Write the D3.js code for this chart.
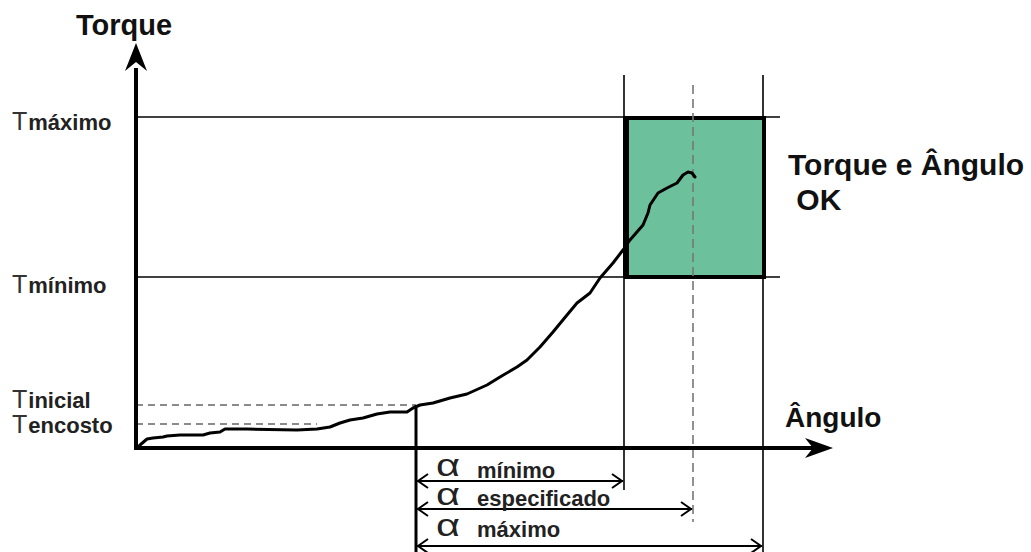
<!DOCTYPE html>
<html>
<head>
<meta charset="utf-8">
<script src="https://cdn.jsdelivr.net/npm/d3@7/dist/d3.min.js"></script>
<style>
  html, body { margin: 0; padding: 0; background: #fff; }
  svg { display: block; }
  text { font-family: "Liberation Sans", Arial, sans-serif; }
</style>
</head>
<body>
<svg id="chart" width="1031" height="552"></svg>
<script>
// ---------- data ----------
const curveAngle  = [0, 2, 4, 11, 17, 27, 31, 44, 67, 74, 84, 89, 111, 161, 181, 194, 204, 214, 227, 241, 254, 271, 277, 284, 297, 314, 331, 351, 364, 381, 391, 404, 417, 431, 441, 454, 464, 477, 487, 494, 507, 512, 514, 522, 531, 541, 547, 552, 556, 559];
const curveTorque = [0, 1, 3, 9, 10, 11, 12, 13, 13, 15, 16, 19, 19, 18, 19, 21, 25, 28, 30, 34, 36, 36, 40, 43, 45, 50, 54, 63, 71, 81, 88, 101, 116, 133, 145, 155, 170, 185, 198, 208, 223, 235, 243, 255, 260, 265, 273, 276, 275, 271];

const torqueNames  = ["máximo", "mínimo", "inicial", "encosto"];
const torqueValues = [331, 171, 43, 24];

const angleStart  = 280;
const angleNames  = ["mínimo", "especificado", "máximo"];
const angleValues = [488, 557, 627];

const axisTitles = ["Torque", "Ângulo"];
const okLines = ["Torque e Ângulo", " OK"];

// ---------- scales ----------
const svg = d3.select("#chart");
const x = d3.scaleLinear().domain([0, 700]).range([136, 836]);
const y = d3.scaleLinear().domain([0, 410]).range([448, 38]);

const tMax = torqueValues[0], tMin = torqueValues[1], tIni = torqueValues[2], tEnc = torqueValues[3];
const aMin = angleValues[0], aSpec = angleValues[1], aMax = angleValues[2];

// ---------- reference lines ----------
[tMax, tMin].forEach(t => {
  svg.append("line")
    .attr("x1", x(0)).attr("x2", x(644))
    .attr("y1", y(t)).attr("y2", y(t))
    .attr("stroke", "#000").attr("stroke-width", 1.6);
});
svg.append("line")
  .attr("x1", x(0)).attr("x2", x(angleStart))
  .attr("y1", y(tIni)).attr("y2", y(tIni))
  .attr("stroke", "#666").attr("stroke-width", 1.4).attr("stroke-dasharray", "7,5");
svg.append("line")
  .attr("x1", x(0)).attr("x2", x(181))
  .attr("y1", y(tEnc)).attr("y2", y(tEnc))
  .attr("stroke", "#666").attr("stroke-width", 1.4).attr("stroke-dasharray", "7,5");

// green OK window
svg.append("rect")
  .attr("x", x(aMin) + 2).attr("y", y(tMax) + 1)
  .attr("width", x(aMax) - x(aMin) - 1)
  .attr("height", y(tMin) - y(tMax) - 1)
  .attr("fill", "#6cc19c").attr("stroke", "#000").attr("stroke-width", 4);
svg.append("line")
  .attr("x1", x(aMin) + 2).attr("x2", x(aMin) + 2)
  .attr("y1", y(tMax) - 1).attr("y2", y(tMin) + 1)
  .attr("stroke", "#000").attr("stroke-width", 6);

// vertical angle lines
svg.append("line")
  .attr("x1", x(aMin)).attr("x2", x(aMin))
  .attr("y1", y(373)).attr("y2", y(-42))
  .attr("stroke", "#000").attr("stroke-width", 1.6);
svg.append("line")
  .attr("x1", x(aMax)).attr("x2", x(aMax))
  .attr("y1", y(373)).attr("y2", y(-104))
  .attr("stroke", "#000").attr("stroke-width", 1.6);
svg.append("line")
  .attr("x1", x(aSpec)).attr("x2", x(aSpec))
  .attr("y1", y(363)).attr("y2", y(-74))
  .attr("stroke", "#777").attr("stroke-width", 1.6).attr("stroke-dasharray", "9,5");
svg.append("line")
  .attr("x1", x(angleStart)).attr("x2", x(angleStart))
  .attr("y1", y(tIni)).attr("y2", y(-104))
  .attr("stroke", "#000").attr("stroke-width", 3);

// ---------- curve ----------
const pts = curveAngle.map((a, i) => [a, curveTorque[i]]);
svg.append("path")
  .datum(pts)
  .attr("d", d3.line().x(d => x(d[0])).y(d => y(d[1])))
  .attr("fill", "none").attr("stroke", "#000").attr("stroke-width", 3)
  .attr("stroke-linejoin", "round").attr("stroke-linecap", "round");

// ---------- axes ----------
svg.append("line")
  .attr("x1", x(0)).attr("x2", x(0))
  .attr("y1", y(-2)).attr("y2", y(380))
  .attr("stroke", "#000").attr("stroke-width", 4);
svg.append("line")
  .attr("x1", x(-2)).attr("x2", x(677))
  .attr("y1", y(0)).attr("y2", y(0))
  .attr("stroke", "#000").attr("stroke-width", 4);
const yt = y(405);
svg.append("path")
  .attr("d", `M${x(0)},${yt} L${x(0) + 11},${yt + 28} L${x(0)},${yt + 19} L${x(0) - 11},${yt + 28} Z`)
  .attr("fill", "#000");
const xt = x(697);
svg.append("path")
  .attr("d", `M${xt},${y(0)} L${xt - 28},${y(0) - 10} L${xt - 20},${y(0)} L${xt - 28},${y(0) + 10} Z`)
  .attr("fill", "#000");

// ---------- axis titles ----------
svg.append("text").attr("x", 124).attr("y", 35).attr("text-anchor", "middle")
  .attr("font-size", 29).attr("font-weight", "bold").attr("fill", "#111").text(axisTitles[0]);
svg.append("text").attr("x", 785).attr("y", 427)
  .attr("font-size", 28).attr("font-weight", "bold").attr("fill", "#111").text(axisTitles[1]);

// ---------- torque labels ----------
const baseOffsets = [13, 16, 3, 9];
torqueNames.forEach((n, i) => {
  const t = svg.append("text").attr("x", 12).attr("y", y(torqueValues[i]) + baseOffsets[i]).attr("fill", "#222");
  t.append("tspan").attr("font-size", 25).attr("fill", "#333").text("T");
  t.append("tspan").attr("font-size", 22).attr("font-weight", "bold").attr("dx", 1).text(n);
});

// ---------- angle arrows ----------
const rowY = [481, 509, 546];
const alphaBase = [476, 505, 536];
const textBase = [478, 506, 537];
angleNames.forEach((n, i) => {
  const x0 = x(angleStart) + 1, x1 = x(angleValues[i]) - 1, yy = rowY[i];
  svg.append("line").attr("x1", x0).attr("x2", x1).attr("y1", yy).attr("y2", yy)
    .attr("stroke", "#000").attr("stroke-width", 2);
  svg.append("path").attr("d", `M${x0 + 11},${yy - 7} L${x0 + 1},${yy} L${x0 + 11},${yy + 7}`)
    .attr("fill", "none").attr("stroke", "#000").attr("stroke-width", 2);
  svg.append("path").attr("d", `M${x1 - 11},${yy - 7} L${x1 - 1},${yy} L${x1 - 11},${yy + 7}`)
    .attr("fill", "none").attr("stroke", "#000").attr("stroke-width", 2);
  svg.append("text")
    .attr("transform", `translate(436,${alphaBase[i]}) scale(1.3,1)`)
    .attr("font-family", "'Liberation Serif', 'Times New Roman', serif")
    .attr("font-size", 32).attr("fill", "#222").text("α");
  svg.append("text").attr("x", 477).attr("y", textBase[i])
    .attr("font-size", 22).attr("font-weight", "bold").attr("fill", "#222").text(n);
});

// ---------- OK text ----------
svg.append("text").attr("x", 788).attr("y", 175)
  .attr("font-size", 30).attr("font-weight", "bold").attr("fill", "#111").text(okLines[0]);
svg.append("text").attr("x", 788).attr("y", 210)
  .style("white-space", "pre")
  .attr("font-size", 30).attr("font-weight", "bold").attr("fill", "#111").text(okLines[1]);
</script>
</body>
</html>
